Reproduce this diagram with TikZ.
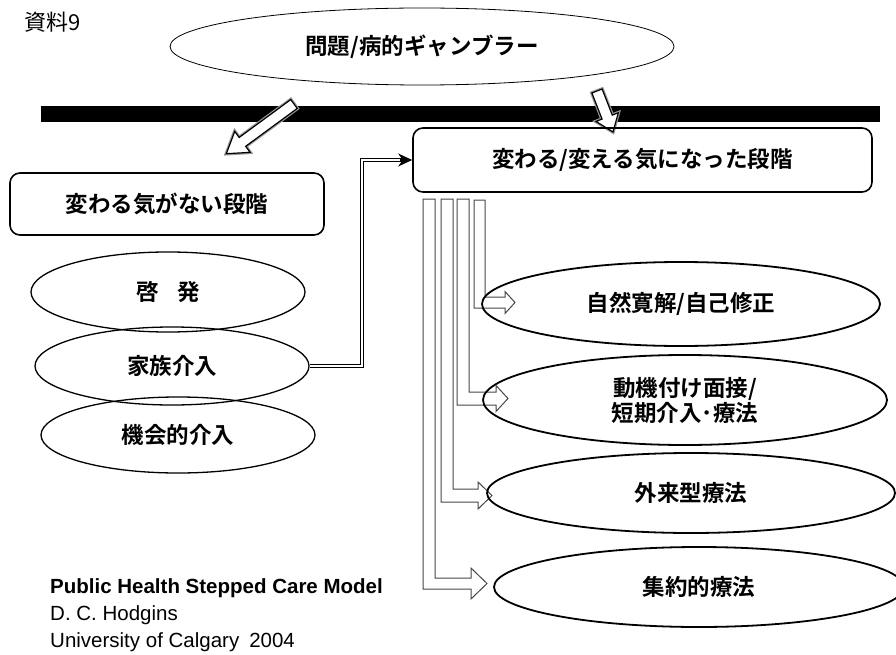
\documentclass[tikz,border=0pt]{standalone}
\usepackage{fontspec}
\newfontfamily\jp{Noto Sans CJK JP}[BoldFont={Noto Sans CJK JP Bold}]
\newfontfamily\en{Liberation Sans}
\usetikzlibrary{shapes.geometric,arrows.meta,calc}
\tikzset{
 jt/.style={font=\jp\bfseries\fontsize{22.5}{25}\selectfont},
 ell/.style={ellipse, draw=black, inner sep=0pt, align=center, jt},
 rell/.style={ell, line width=1.8pt},
 lell/.style={ell, line width=1.3pt},
 stagebox/.style={draw=black, rounded corners=10pt, line width=1.6pt, inner sep=0pt, jt},
 hollow/.style={draw=black!72, line width=1pt, fill=white},
 blockarrow/.style={draw=black, line width=1.2pt, fill=white},
 glow/.style={draw=black!40, line width=3.5pt},
 dbl/.style={draw=black, double=white, double distance=1.6pt, line width=0.9pt},
 entext/.style={font=\en\fontsize{20.5}{24}\selectfont, anchor=base west, inner sep=0pt},
}
\begin{document}
\begin{tikzpicture}[x=1pt,y=-1pt]
\useasboundingbox (0,0) rectangle (896,655);
% label
\node[font=\jp\fontsize{22}{26}\selectfont, anchor=west, inner sep=0pt] (lbl) at (24,22) {資料9};
% top ellipse
\node[ell, line width=0.8pt, minimum width=504pt, minimum height=77pt] (top) at (422,46.5) {問題/病的ギャンブラー};
% black bar
\fill[black] (41,106) rectangle (880,122);
% block arrows
\begin{scope}[shift={(294,104)}, rotate=216.3]
 \draw[glow] (0,-5.5) -- (64,-5.5) -- (64,-13) -- (84,0) -- (64,13) -- (64,5.5) -- (0,5.5) -- cycle;
 \draw[blockarrow] (0,-5.5) -- (64,-5.5) -- (64,-13) -- (84,0) -- (64,13) -- (64,5.5) -- (0,5.5) -- cycle;
\end{scope}
\begin{scope}[shift={(597,91)}, rotate=-68.7]
 \draw[glow] (0,-5.5) -- (28,-5.5) -- (28,-12) -- (44,0) -- (28,12) -- (28,5.5) -- (0,5.5) -- cycle;
 \draw[blockarrow] (0,-5.5) -- (28,-5.5) -- (28,-12) -- (44,0) -- (28,12) -- (28,5.5) -- (0,5.5) -- cycle;
\end{scope}
% stage boxes
\node[stagebox, minimum width=459pt, minimum height=64pt] (ready) at (642.5,160) {変わる/変える気になった段階};
\node[stagebox, minimum width=314pt, minimum height=62pt] (notready) at (167,204) {変わる気がない段階};
% left ellipses
\node[lell, minimum width=274pt, minimum height=80pt] (kei) at (168,292) {啓\hspace{18pt}発};
\node[lell, minimum width=274pt, minimum height=78pt] (fam) at (172,366) {家族介入};
\node[lell, minimum width=274pt, minimum height=76pt] (opp) at (178,435) {機会的介入};
% double connector
\draw[dbl] (fam.east) -- (362,366) |- ($(ready.west)+(-10,0)$);
\draw[-{Stealth[length=14pt,width=13pt]}, line width=1.6pt] ($(ready.west)+(-12,0)$) -- (ready.west);
% hollow elbow arrows
\draw[hollow] (423,199) -- (423,589) -- (471,589) -- (471,599) -- (487,583.5) -- (471,568) -- (471,578) -- (435,578) -- (435,199) -- cycle;
\draw[hollow] (441,199) -- (441,502) -- (478,502) -- (478,509) -- (492,495.5) -- (478,482) -- (478,489) -- (453,489) -- (453,199) -- cycle;
\draw[hollow] (457,199) -- (457,405) -- (496,405) -- (496,411.5) -- (508,398.5) -- (496,385.5) -- (496,392) -- (469,392) -- (469,199) -- cycle;
\draw[hollow] (474,200) -- (474,308) -- (505,308) -- (505,313.5) -- (515,302.5) -- (505,291.5) -- (505,297) -- (485,297) -- (485,200) -- cycle;
% right ellipses
\node[rell, minimum width=398pt, minimum height=84pt] (e1) at (681,304) {自然寛解/自己修正};
\node[rell, minimum width=404pt, minimum height=90pt] (e2) at (685,400) {動機付け面接/\\短期介入･療法};
\node[rell, minimum width=408pt, minimum height=80pt] (e3) at (691,493) {外来型療法};
\node[rell, minimum width=410pt, minimum height=80pt] (e4) at (699,587) {集約的療法};
% credits
\node[entext, font=\en\bfseries\fontsize{20.5}{24}\selectfont] (c1) at (50,593) {Public Health Stepped Care Model};
\node[entext] (c2) at (50,620) {D. C. Hodgins};
\node[entext] (c3) at (50,647) {University of Calgary\hspace{10pt}2004};
\end{tikzpicture}
\end{document}
